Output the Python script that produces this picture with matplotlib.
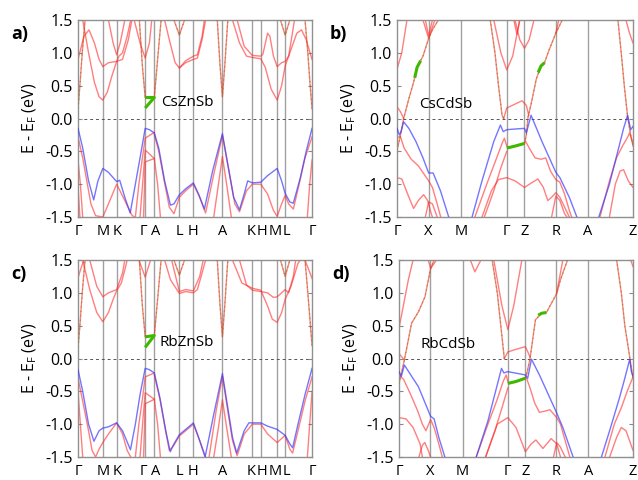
import matplotlib
matplotlib.use('Agg')
import matplotlib.pyplot as plt
from matplotlib.transforms import ScaledTranslation

plt.rcParams['font.family'] = ['Open Sans', 'DejaVu Sans']

# ~~~~~~~~~~~~~~~~~~~~~~~~~~~~~~~~~~~~~~~~~~~~~~~~~~~~ #
# high symmetry points (fraction of path length)
hex_ticks = [0, 0.106, 0.165, 0.287, 0.326, 0.433, 0.493, 0.617, 0.745, 0.781, 0.851, 0.885, 1]
hex_labels = ['Γ', 'M', 'K', 'Γ', 'A', 'L', 'H', 'A', 'K', 'H', 'M', 'L', 'Γ']
tet_ticks = [0, 0.134, 0.272, 0.465, 0.540, 0.673, 0.809, 1]
tet_labels = ['Γ', 'X', 'M', 'Γ', 'Z', 'R', 'A', 'Z']

# ---------------- a) CsZnSb ----------------
a_blue = [
    [(0, -0.15), (0.02, -0.45), (0.045, -0.95), (0.067, -1.24), (0.085, -0.95), (0.106, -0.76),
     (0.13, -0.82), (0.165, -0.96), (0.178, -0.94), (0.2, -1.2), (0.223, -1.44), (0.24, -1.1),
     (0.265, -0.6), (0.287, -0.15), (0.305, -0.17), (0.326, -0.22), (0.345, -0.45), (0.37, -0.95),
     (0.395, -1.32), (0.41, -1.3), (0.433, -1.16), (0.46, -1.07), (0.493, -0.98), (0.515, -1.15),
     (0.54, -1.38), (0.575, -0.8), (0.617, -0.23), (0.64, -0.7), (0.665, -1.2), (0.69, -1.39),
     (0.71, -1.15), (0.725, -0.95), (0.745, -0.98), (0.781, -0.97), (0.81, -0.87), (0.851, -0.76),
     (0.87, -0.95), (0.885, -1.14), (0.905, -1.27), (0.92, -1.29), (0.95, -0.9), (0.975, -0.5),
     (1.0, -0.15)],
]
a_red = [
    # valence
    [(0, -0.28), (0.02, -0.6), (0.04, -1.0), (0.055, -1.3), (0.075, -1.48), (0.106, -1.5),
     (0.13, -1.3), (0.165, -1.0), (0.2, -1.25), (0.23, -1.47), (0.24, -1.5)],
    [(0, -0.63), (0.01, -1.0), (0.02, -1.5)],
    [(0, -1.03), (0.008, -1.5)],
    [(0.245, -1.5), (0.26, -1.0), (0.275, -0.6), (0.287, -0.3), (0.326, -0.21)],
    [(0.265, -1.5), (0.278, -0.9), (0.287, -0.48), (0.326, -0.61), (0.34, -1.0), (0.352, -1.5)],
    [(0.28, -1.5), (0.287, -0.66), (0.326, -0.61)],
    [(0.326, -0.24), (0.345, -0.5), (0.37, -0.98), (0.39, -1.35), (0.41, -1.45), (0.433, -1.2),
     (0.46, -1.1), (0.493, -1.0), (0.52, -1.2), (0.545, -1.44), (0.58, -0.85), (0.617, -0.26),
     (0.645, -0.8), (0.67, -1.3), (0.69, -1.42), (0.72, -1.1), (0.745, -1.0), (0.781, -1.0),
     (0.81, -1.15), (0.835, -1.4), (0.851, -1.49), (0.87, -1.3), (0.885, -1.17), (0.9, -1.3),
     (0.92, -1.38), (0.945, -1.0), (0.97, -0.6), (1.0, -0.28)],
    [(0.58, -1.5), (0.6, -1.0), (0.617, -0.58), (0.635, -1.0), (0.655, -1.5)],
    [(1.0, -0.63), (0.99, -1.0), (0.98, -1.5)],
    # conduction
    [(0, 0.9), (0.025, 1.25), (0.047, 1.35), (0.07, 1.15), (0.09, 0.9), (0.106, 0.79), (0.13, 0.85),
     (0.165, 0.87), (0.19, 0.9), (0.215, 1.2), (0.23, 1.5)],
    [(0.02, 1.5), (0.045, 1.0), (0.07, 0.55), (0.09, 0.33), (0.106, 0.28), (0.125, 0.4),
     (0.145, 0.65), (0.165, 0.87), (0.175, 0.95), (0.19, 1.0), (0.21, 1.25), (0.225, 1.5)],
    [(0.13, 1.5), (0.15, 1.15), (0.165, 0.97), (0.18, 1.15), (0.2, 1.5)],
    [(0.24, 1.5), (0.265, 1.15), (0.287, 0.92), (0.305, 1.15), (0.315, 1.5)],
    [(0.37, 1.5), (0.39, 1.2), (0.415, 0.85), (0.433, 0.77), (0.46, 0.85), (0.493, 0.9),
     (0.51, 0.92), (0.53, 1.2), (0.545, 1.5)],
    [(0.433, 0.77), (0.46, 0.88), (0.493, 0.95), (0.51, 0.97), (0.53, 1.25), (0.54, 1.5)],
    [(0.66, 1.5), (0.69, 1.15), (0.72, 0.95), (0.745, 0.93), (0.781, 0.91), (0.8, 0.78),
     (0.825, 0.45), (0.851, 0.28), (0.87, 0.5), (0.885, 0.8), (0.91, 1.05), (0.935, 1.3),
     (0.955, 1.35), (0.975, 1.2), (1.0, 0.9)],
    [(0.68, 1.5), (0.71, 1.1), (0.745, 0.96), (0.781, 0.95), (0.79, 0.98), (0.81, 1.3),
     (0.82, 1.25), (0.835, 0.95), (0.851, 0.79), (0.87, 0.85), (0.885, 0.87), (0.9, 0.95),
     (0.925, 1.5)],
]
a_dotted = [
    [(0, 0.15), (0.008, 0.5), (0.018, 1.0), (0.03, 1.5)],
    [(0.262, 1.5), (0.275, 0.8), (0.287, 0.32)],
    [(0.326, 0.32), (0.34, 0.9), (0.355, 1.5)],
    [(0.41, 1.5), (0.433, 1.27), (0.455, 1.5)],
    [(0.595, 1.5), (0.607, 0.8), (0.617, 0.33), (0.627, 0.8), (0.64, 1.5)],
    [(0.865, 1.5), (0.885, 1.27), (0.905, 1.5)],
    [(1.0, 0.15), (0.992, 0.5), (0.982, 1.0), (0.97, 1.5)],
]
a_green = [
    [(0.287, 0.32), (0.326, 0.32), (0.287, 0.16)],
]

# ---------------- c) RbZnSb ----------------
c_blue = [
    [(0, -0.17), (0.02, -0.5), (0.045, -1.0), (0.068, -1.26), (0.09, -1.1), (0.106, -1.06),
     (0.13, -1.04), (0.165, -0.98), (0.19, -1.1), (0.224, -1.39), (0.245, -1.0), (0.265, -0.55),
     (0.287, -0.15), (0.305, -0.17), (0.326, -0.22), (0.35, -0.6), (0.375, -1.1), (0.394, -1.42),
     (0.41, -1.3), (0.433, -1.16), (0.46, -1.08), (0.493, -0.98), (0.515, -1.2), (0.543, -1.5),
     (0.58, -0.85), (0.617, -0.23), (0.64, -0.75), (0.66, -1.2), (0.678, -1.44), (0.71, -1.1),
     (0.73, -0.98), (0.745, -0.98), (0.781, -0.98), (0.81, -1.03), (0.851, -1.08), (0.885, -1.17),
     (0.905, -1.3), (0.917, -1.36), (0.94, -1.0), (0.97, -0.55), (1.0, -0.15)],
]
c_red = [
    [(0, -0.3), (0.02, -0.65), (0.045, -1.1), (0.06, -1.4), (0.075, -1.5), (0.09, -1.38),
     (0.106, -1.28), (0.13, -1.15), (0.165, -0.98), (0.19, -1.15), (0.21, -1.4), (0.225, -1.5)],
    [(0, -0.5), (0.01, -1.0), (0.02, -1.5)],
    [(0.245, -1.5), (0.26, -1.0), (0.275, -0.62), (0.287, -0.28), (0.326, -0.22)],
    [(0.265, -1.5), (0.278, -0.9), (0.287, -0.52), (0.326, -0.62), (0.34, -1.0), (0.352, -1.5)],
    [(0.28, -1.5), (0.287, -0.69), (0.326, -0.62)],
    [(0.326, -0.25), (0.35, -0.62), (0.375, -1.12), (0.39, -1.4), (0.41, -1.32), (0.433, -1.18),
     (0.46, -1.1), (0.493, -1.0), (0.52, -1.25), (0.545, -1.5)],
    [(0.56, -1.5), (0.59, -0.8), (0.617, -0.27), (0.64, -0.8), (0.66, -1.25), (0.68, -1.48),
     (0.71, -1.15), (0.745, -1.0), (0.781, -1.0), (0.81, -1.15), (0.851, -1.28), (0.885, -1.17),
     (0.905, -1.38), (0.917, -1.44), (0.94, -1.1), (0.97, -0.65), (1.0, -0.28)],
    [(0.58, -1.5), (0.6, -1.05), (0.617, -0.63), (0.635, -1.05), (0.655, -1.5)],
    [(1.0, -0.5), (0.99, -1.0), (0.98, -1.5)],
    # conduction
    [(0, 1.23), (0.015, 1.4), (0.025, 1.5)],
    [(0.02, 1.5), (0.05, 1.05), (0.08, 0.7), (0.106, 0.56), (0.13, 0.7), (0.15, 0.9),
     (0.165, 1.03), (0.185, 1.15), (0.2, 1.35), (0.21, 1.5)],
    [(0.05, 1.5), (0.08, 1.1), (0.106, 0.94), (0.13, 1.0), (0.165, 1.05), (0.19, 1.3), (0.2, 1.5)],
    [(0.26, 1.5), (0.287, 1.24), (0.31, 1.5)],
    [(0.37, 1.5), (0.395, 1.2), (0.433, 0.99), (0.46, 1.02), (0.493, 1.0), (0.51, 1.05),
     (0.53, 1.3), (0.545, 1.5)],
    [(0.4, 1.5), (0.433, 1.02), (0.46, 1.05), (0.493, 1.03), (0.52, 1.25), (0.535, 1.5)],
    [(0.66, 1.5), (0.7, 1.15), (0.745, 1.07), (0.781, 1.04), (0.81, 0.8), (0.83, 0.6),
     (0.851, 0.55), (0.87, 0.7), (0.885, 0.9), (0.91, 1.1), (0.94, 1.45), (0.95, 1.5)],
    [(0.69, 1.5), (0.72, 1.12), (0.745, 1.04), (0.781, 1.02), (0.81, 1.0), (0.835, 0.93),
     (0.851, 0.94), (0.87, 1.0), (0.885, 1.05), (0.9, 1.0), (0.92, 1.25), (0.93, 1.5)],
    [(0.97, 1.5), (1.0, 1.22)],
]
c_dotted = [
    [(0, 0.17), (0.008, 0.5), (0.018, 1.0), (0.03, 1.5)],
    [(0.262, 1.5), (0.275, 0.8), (0.287, 0.33)],
    [(0.326, 0.35), (0.34, 0.9), (0.355, 1.5)],
    [(0.41, 1.5), (0.433, 1.27), (0.455, 1.5)],
    [(0.595, 1.5), (0.607, 0.8), (0.617, 0.33), (0.627, 0.8), (0.64, 1.5)],
    [(0.865, 1.5), (0.885, 1.25), (0.905, 1.5)],
    [(1.0, 0.2), (0.992, 0.55), (0.982, 1.0), (0.97, 1.5)],
]
c_green = [
    [(0.287, 0.33), (0.326, 0.35), (0.287, 0.17)],
]

# ---------------- b) CsCdSb ----------------
b_blue = [
    [(0, -0.15), (0.01, -0.25), (0.017, -0.2), (0.028, -0.05), (0.05, -0.15), (0.08, -0.35),
     (0.11, -0.6), (0.134, -0.83), (0.153, -0.83), (0.184, -1.1), (0.219, -1.5)],
    [(0.318, -1.5), (0.36, -0.95), (0.41, -0.35), (0.438, -0.1), (0.45, -0.2), (0.465, -0.17),
     (0.5, -0.16), (0.54, -0.15), (0.548, -0.22), (0.568, 0.05), (0.614, -0.35), (0.673, -0.82),
     (0.69, -0.9), (0.73, -1.2), (0.762, -1.5)],
    [(0.855, -1.5), (0.9, -1.0), (0.939, -0.45), (0.96, -0.15), (0.977, 0.05), (0.99, -0.17),
     (1.0, -0.12)],
]
b_red = [
    [(0, -0.3), (0.014, -0.27), (0.03, -0.45), (0.06, -0.62), (0.09, -0.72), (0.115, -0.85),
     (0.134, -0.95), (0.15, -1.05), (0.17, -1.3), (0.185, -1.5)],
    [(0, -0.9), (0.02, -0.92), (0.045, -1.15), (0.07, -1.37), (0.09, -1.25), (0.113, -1.16),
     (0.13, -1.25), (0.145, -1.45), (0.15, -1.5)],
    [(0.12, -1.5), (0.134, -1.27), (0.15, -1.3), (0.17, -1.5)],
    [(0.33, -1.5), (0.38, -1.0), (0.42, -0.62), (0.445, -0.38), (0.455, -0.3), (0.465, -0.42)],
    [(0.37, -1.5), (0.41, -1.1), (0.44, -0.75), (0.465, -0.5)],
    [(0.36, -1.5), (0.4, -1.1), (0.43, -0.93), (0.465, -0.9), (0.5, -0.95), (0.54, -1.05),
     (0.57, -0.98), (0.597, -0.92), (0.62, -1.05), (0.639, -1.25), (0.655, -1.2), (0.673, -1.13),
     (0.69, -1.2), (0.71, -1.35), (0.73, -1.5)],
    [(0.545, -0.35), (0.56, -0.45), (0.585, -0.6), (0.61, -0.62), (0.63, -0.6), (0.65, -0.8),
     (0.673, -0.93), (0.69, -0.97), (0.71, -1.15), (0.73, -1.4), (0.74, -1.5)],
    [(0.655, -1.5), (0.673, -1.18), (0.69, -1.25), (0.71, -1.45), (0.72, -1.5)],
    [(0.86, -1.5), (0.9, -0.95), (0.93, -0.6), (0.955, -0.42), (0.975, -0.3), (0.985, -0.22),
     (1.0, -0.38)],
    [(0.9, -1.5), (0.925, -1.0), (0.945, -0.8), (0.96, -0.78), (0.98, -0.95), (1.0, -1.05)],
    # conduction
    [(0, 0.18), (0.015, 0.1), (0.028, 0.0)],
    [(0, 0.75), (0.02, 1.0), (0.042, 1.5)],
    [(0.11, 1.5), (0.134, 1.22), (0.16, 1.5)],
    [(0.12, 1.5), (0.134, 1.26), (0.15, 1.5)],
    [(0.41, 1.5), (0.44, 1.0), (0.465, 0.74), (0.49, 0.95), (0.52, 1.5)],
    [(0.452, 0.0), (0.465, 0.16), (0.5, 0.22), (0.53, 0.27), (0.548, 0.2), (0.558, 0.05)],
    [(0.495, 1.5), (0.508, 1.28), (0.52, 1.5)],
    [(0.5, 1.5), (0.52, 1.2), (0.54, 1.07), (0.56, 1.2), (0.58, 1.5)],
    [(0.673, 1.3), (0.685, 1.5)],
    [(0.97, 1.5), (0.985, 1.3), (1.0, 1.15)],
]
b_dotted = [
    [(0, -0.48), (0.012, -0.3), (0.028, 0.0), (0.05, 0.3), (0.07, 0.55), (0.085, 0.78),
     (0.095, 0.85), (0.11, 0.95), (0.134, 1.22), (0.15, 1.35), (0.175, 1.5)],
    [(0.395, 1.5), (0.415, 1.0), (0.43, 0.5), (0.445, 0.05), (0.452, 0.0)],
    [(0.54, -0.38), (0.548, -0.25), (0.555, 0.02), (0.57, 0.25), (0.59, 0.6), (0.61, 0.8),
     (0.625, 0.85), (0.645, 1.05), (0.673, 1.3), (0.7, 1.5)],
    [(0.936, 1.5), (0.95, 1.0), (0.963, 0.5), (0.977, 0.03), (0.99, -0.25), (1.0, -0.42)],
]
b_green = [
    [(0.465, -0.45), (0.5, -0.42), (0.54, -0.38)],
    [(0.075, 0.62), (0.085, 0.78), (0.1, 0.88)],
    [(0.598, 0.7), (0.61, 0.8), (0.625, 0.85)],
]

# ---------------- d) RbCdSb ----------------
d_blue = [
    [(0, -0.2), (0.01, -0.27), (0.023, -0.1), (0.083, -0.43), (0.135, -0.88), (0.15, -0.92),
     (0.17, -1.2), (0.196, -1.5)],
    [(0.33, -1.5), (0.38, -0.95), (0.438, -0.15), (0.448, -0.22), (0.465, -0.2), (0.54, -0.25),
     (0.55, -0.3), (0.566, -0.01), (0.6, -0.25), (0.674, -0.83), (0.7, -1.05), (0.744, -1.5)],
    [(0.865, -1.5), (0.9, -1.1), (0.942, -0.6), (0.965, -0.3), (0.986, -0.01), (0.993, -0.2),
     (1.0, -0.27)],
]
d_red = [
    [(0, -0.25), (0.02, -0.32), (0.05, -0.55), (0.08, -0.8), (0.1, -1.0), (0.115, -1.1),
     (0.135, -0.93), (0.15, -1.05), (0.17, -1.3), (0.185, -1.5)],
    [(0, -0.9), (0.03, -0.92), (0.06, -1.05), (0.09, -1.3), (0.1, -1.5)],
    [(0.085, -1.5), (0.1, -1.32), (0.11, -1.28), (0.125, -1.4), (0.135, -1.5)],
    [(0.33, -1.5), (0.38, -1.0), (0.42, -0.62), (0.445, -0.35), (0.458, -0.25), (0.465, -0.35)],
    [(0.37, -1.5), (0.41, -1.1), (0.44, -0.75), (0.465, -0.45)],
    [(0.37, -1.5), (0.42, -1.0), (0.465, -0.9), (0.5, -1.05), (0.54, -1.42), (0.565, -1.3),
     (0.585, -1.24), (0.615, -1.37), (0.65, -1.22), (0.674, -1.3), (0.69, -1.5)],
    [(0.545, -0.3), (0.56, -0.45), (0.58, -0.68), (0.6, -0.82), (0.625, -0.8), (0.645, -0.78),
     (0.674, -0.9), (0.69, -1.0), (0.71, -1.25), (0.73, -1.5)],
    [(0.66, -1.5), (0.674, -1.28), (0.69, -1.35), (0.71, -1.5)],
    [(0.88, -1.5), (0.92, -1.0), (0.95, -0.75), (0.975, -0.5), (1.0, -0.28)],
    [(0.9, -1.5), (0.93, -1.2), (0.95, -1.05), (0.97, -1.1), (0.99, -1.3), (1.0, -1.4)],
    # conduction
    [(0, 0.08), (0.01, 0.03), (0.023, -0.02)],
    [(0, 0.46), (0.04, 1.2), (0.06, 1.5)],
    [(0.125, 1.5), (0.135, 1.37), (0.16, 1.5)],
    [(0.305, 1.5), (0.324, 1.32), (0.35, 1.5)],
    [(0.405, 1.5), (0.44, 0.8), (0.465, 0.44), (0.49, 0.8), (0.525, 1.5)],
    [(0.45, 0.0), (0.465, 0.1), (0.5, 0.14), (0.54, 0.18), (0.548, 0.12), (0.56, 0.02)],
    [(0.674, 1.0), (0.7, 1.5)],
    [(0.99, 1.5), (1.0, 1.4)],
]
d_dotted = [
    [(0, -0.38), (0.012, -0.2), (0.023, -0.02), (0.054, 0.54), (0.083, 0.71), (0.111, 0.94),
     (0.135, 1.37), (0.15, 1.5)],
    [(0.398, 1.5), (0.42, 1.0), (0.435, 0.5), (0.45, 0.0)],
    [(0.54, -0.3), (0.548, -0.2), (0.56, 0.0), (0.583, 0.59), (0.61, 0.69), (0.63, 0.7),
     (0.674, 0.99), (0.69, 1.2), (0.72, 1.5)],
    [(0.93, 1.5), (0.95, 1.0), (0.965, 0.5), (0.986, 0.02), (0.993, -0.15), (1.0, -0.3)],
]
d_green = [
    [(0.465, -0.38), (0.5, -0.35), (0.54, -0.3)],
    [(0.595, 0.66), (0.61, 0.69), (0.63, 0.7)],
]

panels = [
    ('a)', 'CsZnSb', hex_ticks, hex_labels, a_red, a_blue, a_dotted, a_green, (0.466, 0.24),
     [0.1223, 0.5479, 0.3668, 0.4104]),
    ('b)', 'CsCdSb', tet_ticks, tet_labels, b_red, b_blue, b_dotted, b_green, (0.205, 0.22),
     [0.6223, 0.5479, 0.3699, 0.4104]),
    ('c)', 'RbZnSb', hex_ticks, hex_labels, c_red, c_blue, c_dotted, c_green, (0.466, 0.24),
     [0.1223, 0.0479, 0.3668, 0.4104]),
    ('d)', 'RbCdSb', tet_ticks, tet_labels, d_red, d_blue, d_dotted, d_green, (0.21, 0.22),
     [0.6254, 0.0479, 0.3668, 0.4104]),
]

fig = plt.figure(figsize=(6.38, 4.8), dpi=100)

for tag, name, ticks, labels, reds, blues, dots, greens, txt, pos in panels:
    ax = fig.add_axes(pos)
    for t in ticks[1:-1]:
        ax.axvline(t, color='#a0a0a0', lw=1.0, zorder=1)
    ax.axhline(0, color='#555555', lw=0.7, ls=(0, (3, 3)), zorder=1)

    for band in reds:
        ax.plot([p[0] for p in band], [p[1] for p in band], color='#ff2a2a', alpha=0.6, lw=1.0, zorder=2)
    for band in dots:
        ax.plot([p[0] for p in band], [p[1] for p in band], color='#ff2a2a', alpha=0.6, lw=1.0, zorder=2)
        ax.plot([p[0] for p in band], [p[1] for p in band], color='#5a9a00', lw=0.8,
                ls=(0, (1, 3)), alpha=0.8, zorder=3)
    for band in blues:
        ax.plot([p[0] for p in band], [p[1] for p in band], color='#3a3aff', alpha=0.7, lw=1.0, zorder=3)
    for band in greens:
        ax.plot([p[0] for p in band], [p[1] for p in band], color='#3fb800', lw=2.2, zorder=4,
                solid_capstyle='butt')

    ax.set_xlim(0, 1)
    ax.set_ylim(-1.5, 1.5)
    ax.set_xticks(ticks)
    ax.set_xticklabels([])
    # k-point labels drawn by hand so close pairs can be pushed apart a little
    base = ax.get_xaxis_transform()
    for i, (t, lab) in enumerate(zip(ticks, labels)):
        dx = 0.0
        if i + 1 < len(ticks) and ticks[i + 1] - t < 0.045:
            dx = -1.2
        if i > 0 and t - ticks[i - 1] < 0.045:
            dx = 1.2
        tr = base + ScaledTranslation(dx / 72, -5 / 72, fig.dpi_scale_trans)
        ax.text(t, 0, lab, transform=tr, ha='center', va='top', fontsize=10.5)
    ax.set_yticks([-1.5, -1.0, -0.5, 0.0, 0.5, 1.0, 1.5])
    ax.set_yticklabels(['-1.5', '-1.0', '-0.5', '0.0', '0.5', '1.0', '1.5'], fontsize=11.5)
    ax.tick_params(axis='x', length=0)
    ax.tick_params(axis='y', direction='in', length=3, right=True, color='#888888', pad=4)
    for s in ax.spines.values():
        s.set_color('#909090')
        s.set_linewidth(1.0)
    ax.set_ylabel('E - E$_\\mathregular{F}$ (eV)', fontsize=11.5, labelpad=4)
    ax.text(txt[0], txt[1], name, ha='center', va='center', fontsize=11, zorder=5)
    fig.text(pos[0] - 0.105, pos[1] + pos[3] - 0.03, tag, fontsize=13, fontweight='bold',
             ha='left', va='center')

fig.savefig('out.png', dpi=100)
